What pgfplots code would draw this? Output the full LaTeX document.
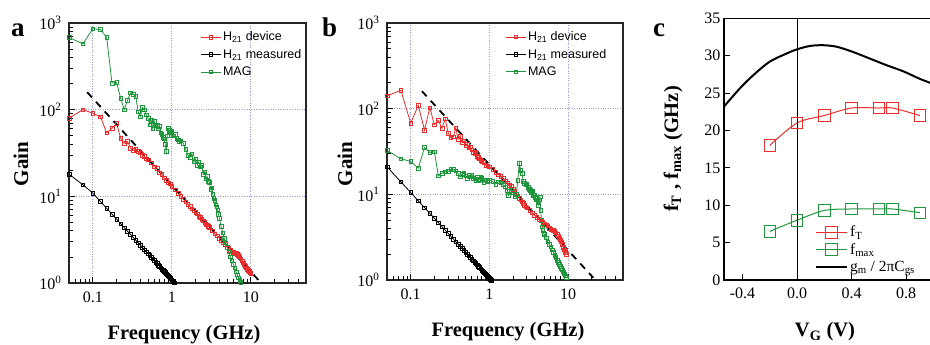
\documentclass[border=0pt]{standalone}
\usepackage{fontspec}
\setmainfont{Liberation Serif}
\newfontfamily\legsans{Liberation Sans}
\usepackage{pgfplots}
\pgfplotsset{compat=1.18}
\definecolor{myred}{RGB}{235,45,45}
\definecolor{mygreen}{RGB}{30,150,60}
\definecolor{gridblue}{RGB}{150,150,235}

\begin{document}
\begin{tikzpicture}
\path[use as bounding box] (0pt,0pt) rectangle (930pt,345pt);

% ---------------- panel a ----------------
\begin{axis}[at={(69pt,62pt)}, anchor=south west, scale only axis, width=237pt, height=260pt,
    xmode=log, ymode=log,
    xmin=0.05, xmax=50, ymin=1, ymax=1000,
    xtick={0.1,1,10}, xticklabels={0.1,1,10},
    ytick={1,10,100,1000},
    yticklabels={10\textsuperscript{0},10\textsuperscript{1},10\textsuperscript{2},10\textsuperscript{3}},
    extra x ticks={0.06,0.07,0.08,0.09,0.2,0.3,0.4,0.5,0.6,0.7,0.8,0.9,2,3,4,5,6,7,8,9,20,30,40},
    extra x tick labels={,,,,,,,,,,,,,,,,,,,,,,},
    extra y ticks={2,3,4,5,6,7,8,9,20,30,40,50,60,70,80,90,200,300,400,500,600,700,800,900},
    extra y tick labels={,,,,,,,,,,,,,,,,,,,,,,,},
    extra x tick style={grid=none, major tick length=4.5pt},
    extra y tick style={grid=none, major tick length=4.5pt},
    tick align=inside, xtick pos=left, ytick pos=left,
    major tick length=6pt,
    xmajorgrids, ymajorgrids,
    major grid style={dotted, gridblue, line width=0.7pt},
    axis line style={line width=1.2pt, black!85},
    tick style={black, line width=0.8pt},
    tick label style={font=\fontsize{16}{19}\selectfont},
    yticklabel style={xshift=-4pt},
    xticklabel style={yshift=-5pt},
    legend cell align=left,
    legend image code/.code={\draw[mark repeat=2,mark phase=2,#1] plot coordinates {(0pt,0pt) (10pt,0pt) (20pt,0pt)};},
    legend style={draw=none, fill=none, font=\legsans\fontsize{12.5}{14}\selectfont, anchor=north west, row sep=3pt, inner sep=0pt, at={(axis description cs:0.553,0.975)}}]
\addplot[myred, line width=0.8pt, mark=square, mark size=1.8pt, mark options={solid, line width=0.5pt, fill=none}] coordinates {
(0.05,80) (0.075,100) (0.1,91) (0.125,83) (0.15,54) (0.175,61) (0.2,70) (0.225,47) (0.25,41) (0.275,43)
(0.3,36) (0.325,34) (0.35,35) (0.375,33) (0.4,32) (0.425,30) (0.45,29) (0.475,27) (0.5,26.5)
(0.55,24.5) (0.6,22) (0.65,21) (0.7,18.8) (0.75,17.9) (0.8,16.3) (0.85,15.4) (0.9,14.4) (0.95,13.9) (1.0,13.1)
(1.1,11.9) (1.2,10.8) (1.3,10.1) (1.4,9.2) (1.5,8.7) (1.6,8.1) (1.7,7.7) (1.8,7.2) (1.9,6.9) (2.0,6.5)
(2.1,6.3) (2.2,5.9) (2.3,5.7) (2.4,5.4) (2.5,5.2) (2.6,5.0) (2.7,4.8) (2.8,4.7) (2.9,4.5) (3.0,4.4)
(3.25,4.0) (3.5,3.7) (3.75,3.5) (4.0,3.3) (4.25,3.1) (4.5,2.95) (4.75,2.8) (5.0,2.6) (5.25,2.5) (5.5,2.4)
(5.75,2.3) (6.0,2.25) (6.25,2.2) (6.5,2.2) (6.75,2.15) (7.0,2.1) (7.25,2.0) (7.5,1.9) (7.75,1.8) (8.0,1.72)
(8.25,1.63) (8.5,1.55) (8.75,1.5) (9.0,1.45) (9.25,1.4) (9.5,1.36) (9.75,1.33) (10.0,1.3)};
\addlegendentry{H\textsubscript{21} device}
\addplot[black, line width=0.8pt, mark=square, mark size=1.8pt, mark options={solid, line width=0.5pt, fill=none}] coordinates {
(0.05,18) (0.075,13.6) (0.1,10.9) (0.125,8.72) (0.15,7.27) (0.175,6.23) (0.2,5.45) (0.225,4.84) (0.25,4.36)
(0.275,3.96) (0.3,3.63) (0.325,3.35) (0.35,3.11) (0.375,2.91) (0.4,2.73) (0.425,2.56) (0.45,2.42) (0.475,2.29)
(0.5,2.18) (0.525,2.08) (0.55,1.98) (0.575,1.90) (0.6,1.82) (0.625,1.74) (0.65,1.68) (0.675,1.61) (0.7,1.56)
(0.725,1.50) (0.75,1.45) (0.775,1.41) (0.8,1.36) (0.825,1.32) (0.85,1.28) (0.875,1.25) (0.9,1.21) (0.925,1.18)
(0.95,1.15) (0.975,1.12) (1.0,1.09) (1.025,1.06) (1.05,1.04) (1.075,1.01) (1.1,0.99)};
\addlegendentry{H\textsubscript{21} measured}
\addplot[mygreen, line width=0.8pt, mark=square, mark size=1.8pt, mark options={solid, line width=0.5pt, fill=none}] coordinates {
(0.05,680) (0.075,575) (0.1,857) (0.125,842) (0.15,680) (0.175,203) (0.2,206) (0.225,136) (0.25,100) (0.275,128)
(0.3,156) (0.325,150) (0.35,142) (0.375,95) (0.4,83) (0.425,106) (0.45,100) (0.475,87) (0.5,80) (0.525,67)
(0.55,75) (0.575,60) (0.6,73) (0.625,65) (0.65,67) (0.675,60) (0.7,64) (0.725,54) (0.75,52) (0.775,48)
(0.8,46) (0.825,40) (0.85,33) (0.875,50) (0.9,61) (0.925,58) (0.95,55) (0.975,51) (1.0,56) (1.05,50)
(1.1,52) (1.15,47) (1.2,45) (1.25,43) (1.3,44) (1.4,41) (1.5,35) (1.6,30) (1.7,28) (1.8,31)
(1.9,25) (2.0,27) (2.1,23) (2.2,25) (2.3,22) (2.4,23) (2.5,18) (2.6,19) (2.7,16) (2.8,17)
(2.9,15) (3.0,14.5) (3.1,12) (3.2,12.5) (3.3,10.5) (3.4,9.5) (3.5,9) (3.6,8) (3.7,7.6) (3.8,7.0)
(3.9,6.2) (4.0,5.6) (4.2,4.5) (4.4,3.8) (4.6,3.3) (4.8,2.9) (5.0,2.6) (5.25,2.3) (5.5,2.0) (5.75,1.8)
(6.0,1.65) (6.25,1.5) (6.5,1.35) (6.75,1.25) (7.0,1.15) (7.25,1.08) (7.5,1.02) (7.75,0.97)};
\addlegendentry{MAG}
\addplot[black, line width=1.8pt, dash pattern=on 7pt off 6pt, forget plot] coordinates {(0.085,159) (14,0.964)};
\end{axis}

% ---------------- panel b ----------------
\begin{axis}[at={(387pt,65pt)}, anchor=south west, scale only axis, width=236pt, height=257pt,
    xmode=log, ymode=log,
    xmin=0.05, xmax=50, ymin=1, ymax=1000,
    xtick={0.1,1,10}, xticklabels={0.1,1,10},
    ytick={1,10,100,1000},
    yticklabels={10\textsuperscript{0},10\textsuperscript{1},10\textsuperscript{2},10\textsuperscript{3}},
    extra x ticks={0.06,0.07,0.08,0.09,0.2,0.3,0.4,0.5,0.6,0.7,0.8,0.9,2,3,4,5,6,7,8,9,20,30,40},
    extra x tick labels={,,,,,,,,,,,,,,,,,,,,,,},
    extra y ticks={2,3,4,5,6,7,8,9,20,30,40,50,60,70,80,90,200,300,400,500,600,700,800,900},
    extra y tick labels={,,,,,,,,,,,,,,,,,,,,,,,},
    extra x tick style={grid=none, major tick length=4.5pt},
    extra y tick style={grid=none, major tick length=4.5pt},
    tick align=inside, xtick pos=left, ytick pos=left,
    major tick length=6pt,
    xmajorgrids, ymajorgrids,
    major grid style={dotted, gridblue, line width=0.7pt},
    axis line style={line width=1.2pt, black!85},
    tick style={black, line width=0.8pt},
    tick label style={font=\fontsize{16}{19}\selectfont},
    yticklabel style={xshift=-4pt},
    xticklabel style={yshift=-5pt},
    legend cell align=left,
    legend image code/.code={\draw[mark repeat=2,mark phase=2,#1] plot coordinates {(0pt,0pt) (10pt,0pt) (20pt,0pt)};},
    legend style={draw=none, fill=none, font=\legsans\fontsize{12.5}{14}\selectfont, anchor=north west, row sep=3pt, inner sep=0pt, at={(axis description cs:0.5,0.975)}}]
\addplot[myred, line width=0.8pt, mark=square, mark size=1.8pt, mark options={solid, line width=0.5pt, fill=none}] coordinates {
(0.05,141) (0.075,164) (0.1,68) (0.125,109) (0.15,56) (0.175,103) (0.2,65) (0.225,73) (0.25,59) (0.275,76)
(0.3,52) (0.325,46) (0.35,47) (0.375,60) (0.4,44) (0.425,48) (0.45,40) (0.475,42) (0.5,37) (0.525,39)
(0.55,35) (0.575,36) (0.6,33) (0.625,31) (0.65,30) (0.675,31) (0.7,28) (0.725,27) (0.75,26) (0.775,25)
(0.8,24) (0.85,23.5) (0.9,22) (0.95,21.5) (1.0,21) (1.1,19.5) (1.2,18) (1.3,17) (1.4,16.3) (1.5,15.5)
(1.6,14.3) (1.7,13.5) (1.8,12.8) (1.9,12.4) (2.0,11.5) (2.1,10.8) (2.2,10.2) (2.3,9.6) (2.4,9.0) (2.5,8.6)
(2.6,8.2) (2.7,7.9) (2.8,7.5) (2.9,7.2) (3.0,7.0) (3.25,6.5) (3.5,6.1) (3.75,5.7) (4.0,5.4) (4.25,5.1)
(4.5,4.9) (4.75,4.7) (5.0,4.5) (5.25,4.4) (5.5,4.3) (5.75,4.0) (6.0,3.9) (6.25,3.85) (6.5,3.8) (6.75,3.7)
(7.0,3.55) (7.25,3.4) (7.5,3.3) (7.75,3.1) (8.0,2.95) (8.25,2.8) (8.5,2.6) (8.75,2.4) (9.0,2.25) (9.25,2.1) (9.5,2.0)};
\addlegendentry{H\textsubscript{21} device}
\addplot[black, line width=0.8pt, mark=square, mark size=1.8pt, mark options={solid, line width=0.5pt, fill=none}] coordinates {
(0.05,21) (0.075,14) (0.1,10.5) (0.125,8.4) (0.15,7.0) (0.175,6.0) (0.2,5.25) (0.225,4.67) (0.25,4.2)
(0.275,3.82) (0.3,3.5) (0.325,3.23) (0.35,3.0) (0.375,2.8) (0.4,2.63) (0.425,2.47) (0.45,2.33) (0.475,2.21)
(0.5,2.1) (0.525,2.0) (0.55,1.91) (0.575,1.83) (0.6,1.75) (0.625,1.68) (0.65,1.62) (0.675,1.56) (0.7,1.5)
(0.725,1.45) (0.75,1.4) (0.775,1.35) (0.8,1.31) (0.825,1.27) (0.85,1.24) (0.875,1.2) (0.9,1.17) (0.925,1.14)
(0.95,1.11) (0.975,1.08) (1.0,1.05) (1.025,1.02) (1.05,1.0)};
\addlegendentry{H\textsubscript{21} measured}
\addplot[mygreen, line width=0.8pt, mark=square, mark size=1.8pt, mark options={solid, line width=0.5pt, fill=none}] coordinates {
(0.05,32.6) (0.075,26) (0.1,24.2) (0.125,20.2) (0.15,35.3) (0.175,30.8) (0.2,31.5) (0.225,16.4) (0.25,17.7) (0.275,18.3)
(0.3,18.5) (0.325,19.5) (0.35,19.7) (0.375,18.8) (0.4,17.5) (0.425,16.1) (0.45,17.2) (0.475,17.7) (0.5,16.5) (0.525,15.4)
(0.55,16.8) (0.575,16.1) (0.6,17.0) (0.625,15.5) (0.65,15.2) (0.675,14.7) (0.7,15.8) (0.725,14.5) (0.75,15.0) (0.775,16.1)
(0.8,15.4) (0.85,13.7) (0.9,14.8) (0.95,14.2) (1.0,14.7) (1.1,14.1) (1.2,13.2) (1.3,14.0) (1.4,13.7) (1.5,12.9)
(1.6,12.3) (1.7,11.0) (1.75,9.8) (1.8,10.8) (1.9,11.2) (2.0,10.5) (2.1,9.4) (2.2,10.0) (2.3,14.7) (2.4,23.2)
(2.5,19.0) (2.6,17.7) (2.7,14.1) (2.8,13.5) (2.9,12.9) (3.0,13.2) (3.1,12.0) (3.2,11.5) (3.3,11.2) (3.4,10.5)
(3.5,10.8) (3.6,9.8) (3.7,9.9) (3.8,9.2) (3.9,8.6) (4.0,9.0) (4.1,8.0) (4.2,7.5) (4.3,8.6) (4.4,9.4)
(4.5,6.5) (4.6,5.0) (4.7,4.2) (4.8,3.8) (4.9,3.5) (5.0,3.4) (5.25,3.1) (5.5,2.8) (5.75,2.6) (6.0,2.45)
(6.25,2.25) (6.5,2.1) (6.75,1.95) (7.0,1.85) (7.25,1.7) (7.5,1.6) (7.75,1.52) (8.0,1.45) (8.25,1.38) (8.5,1.32)
(8.75,1.25) (9.0,1.18) (9.25,1.12) (9.5,1.07)};
\addlegendentry{MAG}
\addplot[black, line width=1.8pt, dash pattern=on 7pt off 6pt, forget plot] coordinates {(0.139,160) (21,1.06)};
\end{axis}

% ---------------- panel c ----------------
\begin{axis}[at={(724pt,65pt)}, anchor=south west, scale only axis,
  width=209.5pt, height=261.7pt,
  xmin=-0.535, xmax=1.0, ymin=0, ymax=35,
  xtick={-0.4,0,0.4,0.8}, xticklabels={-0.4,0.0,0.4,0.8},
  ytick={0,5,10,15,20,25,30,35},
  tick align=inside, xtick pos=left, ytick pos=left,
  major tick length=6pt,
  axis line style={line width=1.2pt, black},
  tick style={black, line width=0.8pt},
  tick label style={font=\fontsize{16}{19}\selectfont},
  xticklabel style={yshift=-4pt},
  legend cell align=left,
  legend style={draw=none, fill=none, at={(axis description cs:0.434,0.02)}, anchor=south west,
    font=\fontsize{15.5}{18}\selectfont, inner sep=0pt, row sep=1pt},
  /pgf/number format/assume math mode=true]
\addplot[myred, line width=1pt, smooth, mark=square, mark size=5.8pt, mark options={solid, line width=0.8pt, fill=none}, forget plot]
  coordinates {(-0.2,18) (0,21) (0.2,22) (0.4,23) (0.6,23) (0.7,23) (0.9,22)};
\addplot[mygreen, line width=1pt, smooth, mark=square, mark size=5.8pt, mark options={solid, line width=0.8pt, fill=none}, forget plot]
  coordinates {(-0.2,6.5) (0,8) (0.2,9.3) (0.4,9.5) (0.6,9.5) (0.7,9.5) (0.9,9)};
\addplot[black, line width=2pt, smooth, forget plot]
  coordinates {(-0.535,23.2) (-0.42,25.6) (-0.32,27.4) (-0.2,29.2) (-0.075,30.3) (0,30.85) (0.095,31.3) (0.19,31.4) (0.29,31.2) (0.41,30.5) (0.535,29.6) (0.66,28.7) (0.78,27.9) (0.9,26.9) (1.0,26.2)};
\addplot[black, line width=1pt, forget plot] coordinates {(0,0) (0,35)};
\addlegendimage{legend image code/.code={\draw[myred, line width=1pt] (0pt,0pt) -- (31pt,0pt); \draw[myred, line width=0.8pt] (9.7pt,-5.8pt) rectangle (21.3pt,5.8pt);}}
\addlegendentry{f\textsubscript{T}}
\addlegendimage{legend image code/.code={\draw[mygreen, line width=1pt] (0pt,0pt) -- (31pt,0pt); \draw[mygreen, line width=0.8pt] (9.7pt,-5.8pt) rectangle (21.3pt,5.8pt);}}
\addlegendentry{f\textsubscript{max}}
\addlegendimage{legend image code/.code={\draw[black, line width=2pt] (0pt,0pt) -- (31pt,0pt);}}
\addlegendentry{g\textsubscript{m} / 2πC\textsubscript{gs}}
\end{axis}

% ---------------- labels ----------------
\node[anchor=base west, inner sep=0pt, font=\bfseries\fontsize{27}{30}\selectfont] at (11pt,308pt) {a};
\node[anchor=base west, inner sep=0pt, font=\bfseries\fontsize{27}{30}\selectfont] at (322pt,308pt) {b};
\node[anchor=base west, inner sep=0pt, font=\bfseries\fontsize{27}{30}\selectfont] at (653pt,308pt) {c};
\node[rotate=90, anchor=base, inner sep=0pt, font=\bfseries\fontsize{21}{24}\selectfont] at (28pt,181pt) {Gain};
\node[rotate=90, anchor=base, inner sep=0pt, font=\bfseries\fontsize{21}{24}\selectfont] at (352pt,181pt) {Gain};
\node[anchor=base, inner sep=0pt, font=\bfseries\fontsize{20.5}{24}\selectfont] at (184pt,5pt) {Frequency (GHz)};
\node[anchor=base, inner sep=0pt, font=\bfseries\fontsize{20.5}{24}\selectfont] at (508pt,8pt) {Frequency (GHz)};
\node[anchor=base, inner sep=0pt, font=\bfseries\fontsize{20.5}{24}\selectfont] at (825pt,8pt) {V\textsubscript{G} (V)};
\node[rotate=90, anchor=base, inner sep=0pt, font=\bfseries\fontsize{20.5}{24}\selectfont] at (678pt,196pt) {f\textsubscript{T} , f\textsubscript{max} (GHz)};
\end{tikzpicture}
\end{document}
